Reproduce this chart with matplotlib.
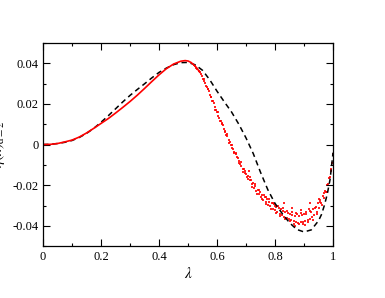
import matplotlib
matplotlib.use("Agg")
import matplotlib.pyplot as plt
from matplotlib.ticker import MultipleLocator, FuncFormatter

plt.rcParams["font.family"] = ["Liberation Serif", "DejaVu Serif"]
plt.rcParams["mathtext.fontset"] = "stix"
plt.rcParams["axes.unicode_minus"] = False

# theory curve (dashed black)
theory_lam = [0.000, 0.025, 0.050, 0.075, 0.100, 0.125, 0.150, 0.175, 0.200, 0.225,
              0.250, 0.275, 0.300, 0.325, 0.350, 0.375, 0.400, 0.425, 0.450, 0.475,
              0.500, 0.525, 0.550, 0.575, 0.600, 0.625, 0.650, 0.675, 0.700, 0.725,
              0.750, 0.775, 0.800, 0.825, 0.850, 0.875, 0.900, 0.925, 0.950, 0.960,
              0.970, 0.980, 0.990, 1.000]
theory_eta = [0.0000, 0.0001, 0.0005, 0.0011, 0.0020, 0.0035, 0.0055, 0.0080, 0.0110,
              0.0142, 0.0176, 0.0210, 0.0242, 0.0271, 0.0299, 0.0328, 0.0355, 0.0376,
              0.0393, 0.0403, 0.0404, 0.0392, 0.0365, 0.0318, 0.0262, 0.0210, 0.0160,
              0.0100, 0.0032, -0.0045, -0.0137, -0.0222, -0.0290, -0.0340, -0.0385,
              -0.0418, -0.0430, -0.0420, -0.0375, -0.0345, -0.0300, -0.0245, -0.0170,
              -0.0040]

# simulation, smooth part (red line)
sim_lam = [0.000, 0.025, 0.050, 0.075, 0.100, 0.125, 0.150, 0.175, 0.200, 0.225,
           0.250, 0.275, 0.300, 0.325, 0.350, 0.375, 0.400, 0.425, 0.450, 0.475,
           0.490, 0.500, 0.510, 0.520, 0.530, 0.540]
sim_eta = [0.0000, 0.0001, 0.0005, 0.0013, 0.0022, 0.0037, 0.0057, 0.0080, 0.0104,
           0.0128, 0.0155, 0.0183, 0.0212, 0.0243, 0.0276, 0.0310, 0.0343, 0.0373,
           0.0396, 0.0410, 0.0413, 0.0411, 0.0404, 0.0392, 0.0377, 0.0356]

# simulation, noisy part (red dots)
dots_lam = [0.520, 0.524, 0.528, 0.532, 0.536,
            0.540, 0.544, 0.548, 0.552, 0.556, 0.560, 0.564, 0.568, 0.572, 0.576,
            0.580, 0.584, 0.588, 0.592, 0.596, 0.600, 0.604, 0.608, 0.612, 0.616,
            0.620, 0.624, 0.628, 0.632, 0.636, 0.640, 0.644, 0.648, 0.652, 0.656,
            0.660, 0.664, 0.668, 0.672, 0.676, 0.680, 0.684, 0.688, 0.692, 0.696,
            0.700, 0.704, 0.708, 0.712, 0.716, 0.720, 0.724, 0.728, 0.732, 0.736,
            0.740, 0.744, 0.748, 0.752, 0.756, 0.760, 0.764, 0.768, 0.772, 0.776,
            0.780, 0.784, 0.788, 0.792, 0.796, 0.800, 0.804, 0.808, 0.812, 0.816,
            0.820, 0.824, 0.828, 0.832, 0.836, 0.840, 0.844, 0.848, 0.852, 0.856,
            0.860, 0.864, 0.868, 0.872, 0.876, 0.880, 0.884, 0.888, 0.892, 0.896,
            0.900, 0.904, 0.908, 0.912, 0.916, 0.920, 0.924, 0.928, 0.932, 0.936,
            0.940, 0.944, 0.948, 0.952, 0.956, 0.960, 0.964, 0.968, 0.972, 0.976,
            0.980, 0.984, 0.988, 0.992, 0.996, 0.999,
            0.860, 0.890, 0.830, 0.920, 0.950, 0.710, 0.770, 0.800, 0.870, 0.905]
dots_eta = [0.0390, 0.0388, 0.0378, 0.0374, 0.0362,
            0.0357, 0.0345, 0.0336, 0.0322, 0.0312, 0.0301, 0.0285, 0.0274,
            0.0262, 0.0242, 0.0233, 0.0215, 0.0205, 0.0184, 0.0172, 0.0160, 0.0141,
            0.0132, 0.0118, 0.0101, 0.0095, 0.0075, 0.0068, 0.0048, 0.0040, 0.0020,
            0.0012, -0.0004, -0.0016, -0.0024, -0.0036, -0.0043, -0.0060, -0.0068,
            -0.0082, -0.0098, -0.0105, -0.0118, -0.0122, -0.0140, -0.0145, -0.0158,
            -0.0156, -0.0175, -0.0176, -0.0195, -0.0188, -0.0212, -0.0203, -0.0230,
            -0.0222, -0.0245, -0.0236, -0.0256, -0.0248, -0.0272, -0.0258, -0.0283,
            -0.0270, -0.0296, -0.0281, -0.0303, -0.0290, -0.0318, -0.0295, -0.0322,
            -0.0305, -0.0333, -0.0310, -0.0340, -0.0318, -0.0348, -0.0326, -0.0355,
            -0.0330, -0.0362, -0.0338, -0.0368, -0.0340, -0.0372, -0.0345, -0.0378,
            -0.0350, -0.0381, -0.0342, -0.0384, -0.0352, -0.0380, -0.0348, -0.0382,
            -0.0344, -0.0378, -0.0340, -0.0372, -0.0318, -0.0365, -0.0330, -0.0358,
            -0.0318, -0.0346, -0.0305, -0.0330, -0.0290, -0.0310, -0.0272, -0.0288,
            -0.0252, -0.0265, -0.0228, -0.0236, -0.0198, -0.0194, -0.0158, -0.0130,
            -0.0090, -0.0045,
            -0.0310, -0.0320, -0.0290, -0.0290, -0.0270, -0.0130, -0.0260, -0.0300,
            -0.0400, -0.0395]

# second batch of dots (another run)
dots2_lam = [0.554, 0.562, 0.570, 0.578, 0.586, 0.594, 0.602, 0.610, 0.618, 0.626,
             0.634, 0.642, 0.650, 0.658, 0.666, 0.674, 0.682, 0.690, 0.698, 0.706,
             0.714, 0.722, 0.730, 0.738, 0.746, 0.754, 0.762, 0.770, 0.778, 0.786,
             0.794, 0.802, 0.810, 0.818, 0.826, 0.834, 0.842, 0.850, 0.858, 0.866,
             0.874, 0.882, 0.890, 0.898, 0.906, 0.914, 0.922, 0.930, 0.938, 0.946,
             0.954, 0.962, 0.970, 0.978, 0.986, 0.994]
dots2_eta = [0.0320, 0.0286, 0.0271, 0.0232, 0.0214, 0.0171, 0.0158, 0.0116, 0.0106,
             0.0064, 0.0052, 0.0006, -0.0001, -0.0044, -0.0046, -0.0090, -0.0088,
             -0.0135, -0.0128, -0.0172, -0.0162, -0.0208, -0.0196, -0.0241, -0.0226,
             -0.0270, -0.0250, -0.0292, -0.0268, -0.0316, -0.0287, -0.0336, -0.0300,
             -0.0352, -0.0312, -0.0366, -0.0325, -0.0378, -0.0333, -0.0390, -0.0338,
             -0.0392, -0.0336, -0.0390, -0.0332, -0.0383, -0.0326, -0.0370, -0.0310,
             -0.0340, -0.0282, -0.0296, -0.0240, -0.0232, -0.0165, -0.0122]

x_ticks = [0, 0.2, 0.4, 0.6, 0.8, 1.0]
y_ticks = [-0.04, -0.02, 0, 0.02, 0.04]


fig = plt.figure(figsize=(3.85, 2.98), dpi=100)
ax = fig.add_axes([0.112, 0.174, 0.753, 0.682])

ax.plot(theory_lam, theory_eta, color="black", lw=1.1, ls=(0, (3.5, 2.5)))
ax.plot(sim_lam, sim_eta, color="red", lw=1.2)
ax.scatter(dots_lam + dots2_lam, dots_eta + dots2_eta, s=1.0, color="red",
           marker="s", linewidths=0, alpha=0.85)

ax.set_xlim(0, 1)
ax.set_ylim(-0.05, 0.05)
ax.set_xticks(x_ticks)
ax.set_yticks(y_ticks)
ax.xaxis.set_minor_locator(MultipleLocator(0.1))
ax.yaxis.set_minor_locator(MultipleLocator(0.01))
fmt = FuncFormatter(lambda v, p: "%g" % round(v, 3))
ax.xaxis.set_major_formatter(fmt)
ax.yaxis.set_major_formatter(fmt)
ax.tick_params(which="both", direction="in", top=True, right=True, labelsize=9)
ax.tick_params(which="major", length=5, width=0.8)
ax.tick_params(which="minor", length=2.5, width=0.8)
for sp in ax.spines.values():
    sp.set_linewidth(0.9)

ax.set_xlabel(r"$\lambda$", fontsize=11, labelpad=2)
ax.set_ylabel(r"$\eta(\lambda)_{\rm d=2}$", fontsize=11)
ax.yaxis.set_label_coords(-0.125, 0.5)

fig.savefig("out.png", dpi=100)
